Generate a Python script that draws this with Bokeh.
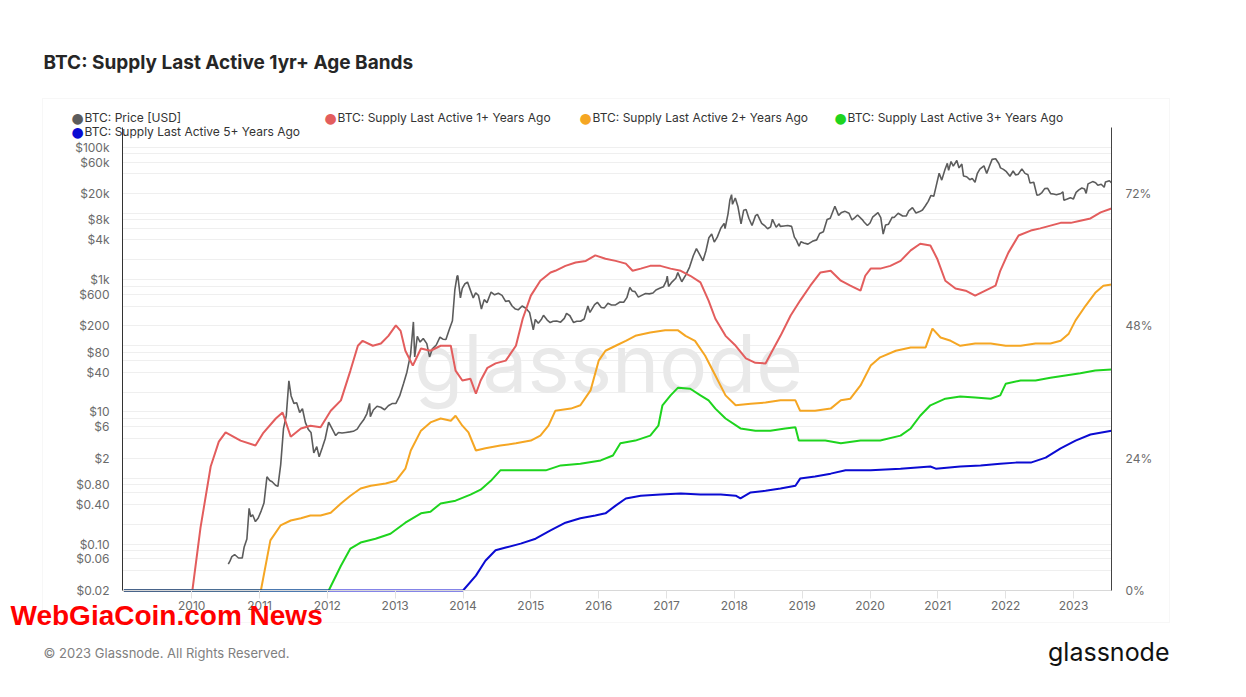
import numpy as np
import pandas as pd
from bokeh.plotting import figure
from bokeh.models import (Range1d, LinearAxis, LinearScale, FixedTicker, CustomJSTickFormatter,
                          PrintfTickFormatter, Label, BoxAnnotation)
from bokeh.embed import file_html
from bokeh.resources import INLINE

# ---------------- data ----------------
price_dates = [
    "2010-07-17", "2010-07-25", "2010-08-05", "2010-08-20", "2010-09-10", "2010-09-30", "2010-10-10",
    "2010-10-25", "2010-11-06", "2010-11-15", "2010-11-25", "2010-12-10", "2010-12-25", "2011-01-10",
    "2011-01-25", "2011-02-10", "2011-02-25", "2011-03-10", "2011-03-28", "2011-04-10", "2011-04-25",
    "2011-05-10", "2011-05-25", "2011-06-08", "2011-06-20", "2011-07-05", "2011-07-20", "2011-08-05",
    "2011-08-20", "2011-09-05", "2011-09-20", "2011-10-05", "2011-10-20", "2011-11-05", "2011-11-18",
    "2011-12-05", "2011-12-20", "2012-01-08", "2012-01-25", "2012-02-15", "2012-03-01", "2012-03-20",
    "2012-04-10", "2012-05-01", "2012-05-20", "2012-06-10", "2012-06-28", "2012-07-15", "2012-08-01",
    "2012-08-16", "2012-08-20", "2012-09-05", "2012-09-25", "2012-10-15", "2012-11-05", "2012-11-25",
    "2012-12-15", "2013-01-05", "2013-01-25", "2013-02-15", "2013-03-05", "2013-03-25", "2013-04-09",
    "2013-04-16", "2013-04-30", "2013-05-15", "2013-06-01", "2013-06-20", "2013-07-05", "2013-07-20",
    "2013-08-10", "2013-08-30", "2013-09-15", "2013-10-01", "2013-10-20", "2013-11-05", "2013-11-18",
    "2013-11-30", "2013-12-04", "2013-12-18", "2013-12-28", "2014-01-10", "2014-01-25", "2014-02-10",
    "2014-02-25", "2014-03-10", "2014-03-25", "2014-04-10", "2014-04-25", "2014-05-10", "2014-06-01",
    "2014-06-20", "2014-07-10", "2014-07-30", "2014-08-18", "2014-09-05", "2014-09-22", "2014-10-10",
    "2014-10-25", "2014-11-15", "2014-12-05", "2014-12-25", "2015-01-14", "2015-01-25", "2015-02-10",
    "2015-02-28", "2015-03-10", "2015-03-30", "2015-04-15", "2015-05-01", "2015-05-20", "2015-06-10",
    "2015-06-30", "2015-07-12", "2015-07-30", "2015-08-19", "2015-09-05", "2015-09-25", "2015-10-15",
    "2015-11-04", "2015-11-15", "2015-12-10", "2015-12-25", "2016-01-15", "2016-02-01", "2016-02-20",
    "2016-03-10", "2016-04-01", "2016-04-25", "2016-05-15", "2016-06-01", "2016-06-17", "2016-06-30",
    "2016-07-15", "2016-08-02", "2016-08-20", "2016-09-10", "2016-09-30", "2016-10-20", "2016-11-05",
    "2016-11-25", "2016-12-15", "2016-12-31", "2017-01-05", "2017-01-12", "2017-01-30", "2017-02-20",
    "2017-03-03", "2017-03-24", "2017-04-15", "2017-05-05", "2017-05-25", "2017-06-11", "2017-06-25",
    "2017-07-16", "2017-08-01", "2017-08-17", "2017-09-01", "2017-09-15", "2017-10-01", "2017-10-20",
    "2017-11-07", "2017-11-12", "2017-11-28", "2017-12-08", "2017-12-17", "2017-12-22", "2018-01-06",
    "2018-01-20", "2018-02-06", "2018-02-20", "2018-03-05", "2018-03-20", "2018-04-06", "2018-04-25",
    "2018-05-05", "2018-05-28", "2018-06-15", "2018-06-29", "2018-07-15", "2018-07-25", "2018-08-14",
    "2018-08-30", "2018-09-05", "2018-09-25", "2018-10-15", "2018-11-05", "2018-11-20", "2018-11-30",
    "2018-12-15", "2018-12-25", "2019-01-10", "2019-02-01", "2019-02-25", "2019-03-20", "2019-04-05",
    "2019-04-25", "2019-05-15", "2019-06-01", "2019-06-26", "2019-07-16", "2019-08-01", "2019-08-20",
    "2019-09-10", "2019-09-26", "2019-10-10", "2019-10-26", "2019-11-20", "2019-12-01", "2019-12-18",
    "2020-01-01", "2020-01-15", "2020-02-13", "2020-02-28", "2020-03-12", "2020-03-25", "2020-04-10",
    "2020-04-30", "2020-05-10", "2020-06-01", "2020-06-25", "2020-07-15", "2020-07-28", "2020-08-17",
    "2020-09-05", "2020-09-25", "2020-10-10", "2020-10-25", "2020-11-10", "2020-11-25", "2020-12-10",
    "2020-12-20", "2021-01-08", "2021-01-22", "2021-02-08", "2021-02-21", "2021-02-28", "2021-03-13",
    "2021-03-25", "2021-04-13", "2021-04-25", "2021-05-10", "2021-05-19", "2021-06-05", "2021-06-22",
    "2021-07-05", "2021-07-20", "2021-08-01", "2021-08-15", "2021-09-06", "2021-09-21", "2021-10-05",
    "2021-10-20", "2021-11-08", "2021-11-25", "2021-12-04", "2021-12-20", "2022-01-05", "2022-01-24",
    "2022-02-10", "2022-02-24", "2022-03-10", "2022-03-29", "2022-04-15", "2022-05-01", "2022-05-12",
    "2022-06-01", "2022-06-18", "2022-07-01", "2022-07-15", "2022-07-30", "2022-08-15", "2022-08-31",
    "2022-09-15", "2022-10-01", "2022-10-25", "2022-11-05", "2022-11-10", "2022-11-25", "2022-12-15",
    "2022-12-31", "2023-01-15", "2023-01-30", "2023-02-15", "2023-03-01", "2023-03-10", "2023-03-20",
    "2023-04-14", "2023-04-30", "2023-05-12", "2023-05-30", "2023-06-15", "2023-06-22", "2023-07-13",
    "2023-07-24",
]
price_usd = [
    0.05, 0.055, 0.065, 0.07, 0.062, 0.062, 0.09,
    0.12, 0.35, 0.26, 0.28, 0.22, 0.25, 0.32,
    0.42, 1.05, 0.92, 0.88, 0.78, 0.75, 1.6,
    5.6, 8.8, 29.6, 17.5, 13.5, 13.8, 9.8,
    11.2, 6.9, 5.5, 4.9, 2.4, 3.0, 2.1,
    2.9, 3.9, 7.0, 5.7, 4.4, 4.9, 4.8,
    4.9, 5.0, 5.1, 5.5, 6.6, 7.6, 9.4,
    13.5, 8.5, 10.7, 12.2, 11.8, 10.8, 12.4,
    13.4, 13.5, 17.5, 27, 40, 75, 230,
    68, 139, 114, 129, 108, 68, 90,
    103, 135, 126, 125, 180, 240, 700,
    1130, 1150, 530, 740, 860, 920, 690,
    530, 630, 580, 360, 500, 450, 650,
    590, 625, 580, 470, 480, 400, 360,
    350, 400, 370, 320, 175, 250, 220,
    255, 290, 245, 225, 235, 237, 228,
    260, 310, 285, 225, 235, 235, 255,
    400, 320, 420, 455, 380, 375, 440,
    415, 416, 460, 455, 535, 760, 675,
    660, 545, 580, 620, 610, 630, 700,
    740, 780, 960, 1130, 790, 920, 1050,
    1280, 930, 1180, 1550, 2300, 2950, 2500,
    1930, 2720, 4300, 4900, 3700, 4400, 6000,
    7100, 5900, 9900, 16000, 19300, 13800, 17200,
    12800, 7000, 11200, 11500, 8500, 6600, 9300,
    9700, 7100, 6500, 5900, 6300, 8200, 6200,
    7000, 6400, 6500, 6600, 6400, 4400, 4000,
    3200, 3750, 3600, 3450, 3800, 4000, 5000,
    5300, 8100, 8500, 12900, 9400, 10400, 10800,
    10100, 8000, 8600, 9500, 8100, 7400, 6600,
    7200, 8800, 10300, 8700, 4900, 6700, 6900,
    8800, 8700, 10100, 9200, 9200, 11000, 12300,
    10200, 10700, 11300, 13000, 15300, 18800, 18300,
    24000, 40600, 32000, 46000, 57500, 45000, 61200,
    52000, 63500, 49000, 56000, 37000, 36000, 32500,
    34000, 29800, 40000, 47000, 52600, 40500, 51500,
    65900, 67500, 57000, 49000, 46500, 43000, 36600,
    44000, 38300, 39400, 47400, 40500, 38500, 28900,
    29800, 19000, 19300, 20800, 23800, 24100, 20000,
    19700, 19300, 20100, 21300, 15900, 16500, 17400,
    16550, 20900, 22800, 24300, 23600, 20200, 28100,
    30400, 29200, 26800, 27700, 25000, 30000, 31400,
    29200,
]

# supply shares (% of circulating supply), x in decimal years
s1_year = [2009.0, 2010.01, 2010.13, 2010.28, 2010.40, 2010.50, 2010.72, 2010.94, 2011.05, 2011.24,
           2011.34, 2011.46, 2011.61, 2011.75, 2011.90, 2012.05, 2012.20, 2012.34, 2012.45, 2012.52,
           2012.67, 2012.79, 2012.90, 2013.01, 2013.08, 2013.15, 2013.26, 2013.38, 2013.52, 2013.67,
           2013.82, 2013.89, 2013.99, 2014.11, 2014.19, 2014.26, 2014.36, 2014.48, 2014.63, 2014.78,
           2014.88, 2015.00, 2015.14, 2015.29, 2015.36, 2015.51, 2015.66, 2015.81, 2015.95, 2016.10,
           2016.25, 2016.40, 2016.50, 2016.62, 2016.76, 2016.91, 2017.06, 2017.21, 2017.35, 2017.50,
           2017.62, 2017.72, 2017.87, 2018.02, 2018.17, 2018.31, 2018.46, 2018.56, 2018.68, 2018.83,
           2018.97, 2019.12, 2019.27, 2019.42, 2019.57, 2019.71, 2019.86, 2019.93, 2020.01, 2020.15,
           2020.30, 2020.45, 2020.60, 2020.74, 2020.89, 2020.99, 2021.11, 2021.26, 2021.41, 2021.55,
           2021.70, 2021.85, 2021.92, 2022.04, 2022.19, 2022.37, 2022.51, 2022.66, 2022.81, 2022.96,
           2023.10, 2023.25, 2023.40, 2023.56]
s1_pct = [0, 0, 11.4, 22.5, 27.0, 28.7, 27.2, 26.3, 28.5, 31.2,
          32.3, 27.9, 29.4, 29.9, 29.6, 32.6, 34.5, 39.9, 44.4, 45.3,
          44.4, 44.8, 46.2, 48.1, 47.1, 43.5, 40.8, 43.9, 43.5, 44.4,
          44.4, 39.9, 38.1, 38.4, 35.7, 38.1, 40.4, 41.2, 41.7, 44.4,
          49.3, 53.5, 56.2, 57.7, 58.0, 58.9, 59.5, 59.8, 60.8, 60.2,
          59.8, 59.3, 58.0, 58.4, 58.9, 58.9, 58.4, 58.0, 57.1, 55.9,
          52.6, 49.3, 46.2, 44.4, 42.1, 41.3, 41.2, 43.5, 46.2, 49.9,
          52.6, 55.3, 57.7, 58.0, 56.2, 55.3, 54.4, 57.1, 58.4, 58.4,
          58.9, 59.8, 61.7, 62.9, 62.6, 60.2, 56.2, 54.8, 54.4, 53.5,
          54.4, 55.3, 58.0, 61.3, 64.4, 65.3, 65.7, 66.2, 66.7, 66.7,
          67.1, 67.5, 68.6, 69.3]

s2_year = [2009.0, 2011.02, 2011.16, 2011.31, 2011.46, 2011.61, 2011.75, 2011.90, 2012.05, 2012.20,
           2012.34, 2012.49, 2012.64, 2012.86, 2013.01, 2013.15, 2013.23, 2013.38, 2013.52, 2013.67,
           2013.82, 2013.89, 2013.99, 2014.08, 2014.19, 2014.33, 2014.55, 2014.78, 2015.00, 2015.14,
           2015.26, 2015.36, 2015.59, 2015.73, 2015.88, 2016.00, 2016.10, 2016.25, 2016.40, 2016.54,
           2016.76, 2016.98, 2017.17, 2017.28, 2017.42, 2017.57, 2017.72, 2017.87, 2018.02, 2018.24,
           2018.46, 2018.68, 2018.90, 2018.97, 2019.19, 2019.42, 2019.57, 2019.71, 2019.86, 2020.01,
           2020.15, 2020.38, 2020.60, 2020.82, 2020.92, 2021.04, 2021.19, 2021.33, 2021.55, 2021.78,
           2022.00, 2022.22, 2022.44, 2022.66, 2022.81, 2022.93, 2023.03, 2023.18, 2023.32, 2023.44,
           2023.56]
s2_pct = [0, 0, 9.1, 11.8, 12.7, 13.1, 13.6, 13.6, 14.1, 15.8,
          17.2, 18.5, 19.0, 19.4, 19.9, 22.1, 25.4, 29.0, 30.5, 31.2,
          30.8, 31.7, 29.9, 28.7, 25.4, 25.8, 26.3, 26.7, 27.2, 28.1,
          29.9, 32.6, 33.0, 33.6, 36.3, 41.7, 43.5, 44.4, 45.3, 46.2,
          46.8, 47.2, 47.2, 46.2, 45.3, 42.6, 39.0, 35.4, 33.6, 33.9,
          34.1, 34.5, 34.5, 32.6, 32.6, 33.0, 34.5, 34.8, 37.2, 40.8,
          42.3, 43.5, 44.1, 44.1, 47.5, 45.9, 45.3, 44.4, 44.8, 44.8,
          44.4, 44.4, 44.8, 44.8, 45.3, 46.6, 49.0, 51.7, 54.0, 55.3,
          55.5]

s3_year = [2009.0, 2012.02, 2012.20, 2012.34, 2012.49, 2012.71, 2012.93, 2013.15, 2013.38, 2013.52,
           2013.67, 2013.89, 2014.11, 2014.26, 2014.41, 2014.55, 2014.78, 2015.00, 2015.22, 2015.44,
           2015.73, 2016.03, 2016.21, 2016.32, 2016.54, 2016.76, 2016.88, 2016.94, 2017.06, 2017.17,
           2017.35, 2017.50, 2017.62, 2017.72, 2017.87, 2018.09, 2018.31, 2018.53, 2018.75, 2018.90,
           2018.95, 2019.12, 2019.34, 2019.57, 2019.86, 2020.15, 2020.45, 2020.60, 2020.74, 2020.89,
           2021.11, 2021.33, 2021.55, 2021.78, 2021.92, 2022.00, 2022.22, 2022.44, 2022.66, 2022.88,
           2023.10, 2023.32, 2023.56]
s3_pct = [0, 0, 4.5, 7.6, 8.7, 9.4, 10.3, 12.3, 14.0, 14.3,
          15.8, 16.3, 17.4, 18.3, 19.9, 21.8, 21.8, 21.8, 21.8, 22.7,
          23.0, 23.6, 24.5, 26.7, 27.2, 28.1, 29.9, 33.6, 35.4, 36.8,
          36.6, 35.4, 34.5, 33.0, 31.2, 29.4, 29.0, 29.0, 29.4, 29.6,
          27.2, 27.2, 27.2, 26.7, 27.2, 27.2, 28.1, 29.4, 31.7, 33.6,
          34.8, 35.2, 35.0, 34.8, 35.4, 37.5, 38.1, 38.1, 38.6, 39.0,
          39.4, 39.9, 40.1]

s5_year = [2009.0, 2014.0, 2014.19, 2014.33, 2014.48, 2014.63, 2014.85, 2015.07, 2015.29, 2015.51,
           2015.73, 2015.95, 2016.10, 2016.25, 2016.40, 2016.62, 2016.91, 2017.21, 2017.50, 2017.80,
           2018.02, 2018.09, 2018.24, 2018.46, 2018.68, 2018.90, 2018.97, 2019.19, 2019.42, 2019.64,
           2020.01, 2020.45, 2020.89, 2020.97, 2021.33, 2021.63, 2021.92, 2022.15, 2022.37, 2022.59,
           2022.81, 2023.03, 2023.25, 2023.56]
s5_pct = [0, 0, 2.7, 5.4, 7.3, 7.8, 8.5, 9.4, 10.9, 12.3,
          13.1, 13.6, 14.0, 15.4, 16.7, 17.2, 17.4, 17.6, 17.4, 17.4,
          17.2, 16.7, 17.8, 18.1, 18.5, 19.0, 20.3, 20.7, 21.2, 21.8,
          21.8, 22.1, 22.5, 22.1, 22.5, 22.7, 23.0, 23.2, 23.2, 24.1,
          25.8, 27.2, 28.3, 29.0]

year_ticks = list(range(2010, 2024))
price_label_ticks = [0.02, 0.06, 0.1, 0.4, 0.8, 2, 6, 10, 40, 80, 200, 600,
                     1000, 4000, 8000, 20000, 60000, 100000]
price_grid_ticks = [0.02, 0.04, 0.06, 0.08, 0.1, 0.2, 0.4, 0.6, 0.8, 1, 2, 4, 6, 8, 10,
                    20, 40, 60, 80, 100, 200, 400, 600, 800, 1000, 2000, 4000, 6000, 8000,
                    10000, 20000, 40000, 60000, 80000, 100000]
pct_ticks = [0, 24, 48, 72]

series_names = ["BTC: Price [USD]",
                "BTC: Supply Last Active 1+ Years Ago",
                "BTC: Supply Last Active 2+ Years Ago",
                "BTC: Supply Last Active 3+ Years Ago",
                "BTC: Supply Last Active 5+ Years Ago"]
series_colors = ["#5c5c5c", "#e35d5d", "#f5a623", "#1ed41e", "#0b0bd2"]

# axis extents of the data area
X0, X1 = 2008.98, 2023.56
PMIN, PMAX = 0.02, 200000
QMIN, QMAX = 0, 84

# ---------------- layout ----------------
# The frame covers the whole canvas; the data area sits inside it so that
# title, legend and footer (drawn as annotations) are not clipped.
W, H = 1246, 697
FL, FR, FT, FB = 122, 1111, 127, 590
FONT = "Inter"

ppx = (FR - FL) / (X1 - X0)
x_full = Range1d(X0 - FL / ppx, X1 + (W - FR) / ppx)
lp0, lp1 = np.log10(PMIN), np.log10(PMAX)
ppy = (FB - FT) / (lp1 - lp0)
y_full = Range1d(10 ** (lp0 - (H - FB) / ppy), 10 ** (lp1 + FT / ppy))
ppq = (FB - FT) / (QMAX - QMIN)
q_full = Range1d(QMIN - (H - FB) / ppq, QMAX + FT / ppq)

d = pd.to_datetime(price_dates)
price_year = d.year + (d.dayofyear - 1) / np.where(d.is_leap_year, 366.0, 365.0)

p = figure(width=W, height=H, output_backend="svg", toolbar_location=None,
           y_axis_type="log", x_range=x_full, y_range=y_full,
           min_border=0)
p.title.visible = False
p.extra_x_ranges = {"px": Range1d(0, W)}
p.extra_y_ranges = {"pct": q_full, "py": Range1d(start=H, end=0)}
p.extra_x_scales = {"px": LinearScale()}
p.extra_y_scales = {"pct": LinearScale(), "py": LinearScale()}
p.outline_line_color = None
p.background_fill_color = "white"
p.border_fill_color = "white"

# card outline
p.add_layout(BoxAnnotation(left=42, right=1169, top=98, bottom=622,
                           x_range_name="px", y_range_name="py",
                           fill_alpha=0, line_color="#e3e3e3", line_width=1,
                           level="underlay"))

# left (price) axis
ya = p.yaxis[0]
ya.fixed_location = X0
ya.bounds = (PMIN, PMAX)
ya.ticker = FixedTicker(ticks=price_label_ticks)
ya.formatter = CustomJSTickFormatter(code="""
if (tick >= 1000) { return '$' + (tick / 1000) + 'k'; }
if (tick >= 1) { return '$' + tick; }
return '$' + tick.toFixed(2);
""")
ya.major_tick_out = 0
ya.major_tick_in = 0
ya.minor_tick_line_color = None
ya.axis_line_color = "#333333"
ya.major_label_standoff = 13
ya.major_label_text_font = FONT
ya.major_label_text_font_size = "12px"
ya.major_label_text_color = "#6b6b6b"

yg = p.ygrid[0]
yg.ticker = FixedTicker(ticks=price_grid_ticks)
yg.grid_line_color = "#efefef"
yg.bounds = (PMIN, PMAX)
yg.cross_bounds = (X0, X1)
p.xgrid[0].visible = False

# bottom axis
xa = p.xaxis[0]
xa.fixed_location = PMIN
xa.bounds = (X0, X1)
xa.ticker = FixedTicker(ticks=year_ticks)
xa.formatter = PrintfTickFormatter(format="%d")
xa.major_tick_out = 8
xa.major_tick_in = 0
xa.major_tick_line_color = "#e2e2e2"
xa.minor_tick_line_color = None
xa.axis_line_color = "#d8d8d8"
xa.major_label_standoff = 2
xa.major_label_text_font = FONT
xa.major_label_text_font_size = "12px"
xa.major_label_text_color = "#6b6b6b"

# right (percentage) axis
ra = LinearAxis(y_range_name="pct", ticker=FixedTicker(ticks=pct_ticks),
                formatter=PrintfTickFormatter(format="%d%%"))
ra.fixed_location = X1
ra.bounds = (QMIN, QMAX)
ra.major_tick_out = 0
ra.major_tick_in = 0
ra.minor_tick_line_color = None
ra.axis_line_color = "#444444"
ra.major_label_standoff = 14
ra.major_label_text_font = FONT
ra.major_label_text_font_size = "12px"
ra.major_label_text_color = "#6b6b6b"
p.add_layout(ra, "right")

# watermark
p.add_layout(Label(x=608, y=362, x_range_name="px", y_range_name="py", text="glassnode",
                   text_font=FONT, text_font_size="80px", text_color="#e9e9e9",
                   text_align="center", text_baseline="middle", level="underlay"))

# series
p.line(price_year, price_usd, color=series_colors[0], line_width=1.6)
p.line(s1_year, s1_pct, y_range_name="pct", color=series_colors[1], line_width=2)
p.line(s2_year, s2_pct, y_range_name="pct", color=series_colors[2], line_width=2)
p.line(s3_year, s3_pct, y_range_name="pct", color=series_colors[3], line_width=2)
p.line(s5_year, s5_pct, y_range_name="pct", color=series_colors[4], line_width=2)

# title
p.add_layout(Label(x=43, y=62, x_range_name="px", y_range_name="py",
                   text="BTC: Supply Last Active 1yr+ Age Bands", text_font=FONT,
                   text_font_size="19px", text_font_style="bold", text_color="#262626",
                   text_baseline="middle"))

# legend (fixed-width items, two rows)
legend_pos = [(77, 117), (330, 117), (585, 117), (840, 117), (77, 131)]
for (lx, ly), name, col in zip(legend_pos, series_names, series_colors):
    p.add_layout(Label(x=lx, y=ly, x_range_name="px", y_range_name="py", text="\u25CF",
                       text_font="DejaVu Sans", text_font_size="14px", text_color=col,
                       text_align="center", text_baseline="middle"))
    p.add_layout(Label(x=lx + 7, y=ly, x_range_name="px", y_range_name="py", text=name,
                       text_font=FONT, text_font_size="12px", text_color="#333333",
                       text_baseline="middle"))

# footer
p.add_layout(Label(x=43, y=652, x_range_name="px", y_range_name="py",
                   text="\u00A9 2023 Glassnode. All Rights Reserved.", text_font=FONT,
                   text_font_size="13px", text_color="#808080", text_baseline="middle"))
p.add_layout(Label(x=1169, y=651, x_range_name="px", y_range_name="py",
                   text="glassnode", text_font=FONT, text_font_size="25px",
                   text_color="#111111", text_align="right", text_baseline="middle"))

# overlay watermark present on the reference image
p.add_layout(Label(x=10, y=615, x_range_name="px", y_range_name="py",
                   text="WebGiaCoin.com News", text_font="Liberation Sans",
                   text_font_size="28px", text_font_style="bold", text_color="#ff0000",
                   text_baseline="middle"))

open("out.html", "w").write(file_html(p, INLINE))
